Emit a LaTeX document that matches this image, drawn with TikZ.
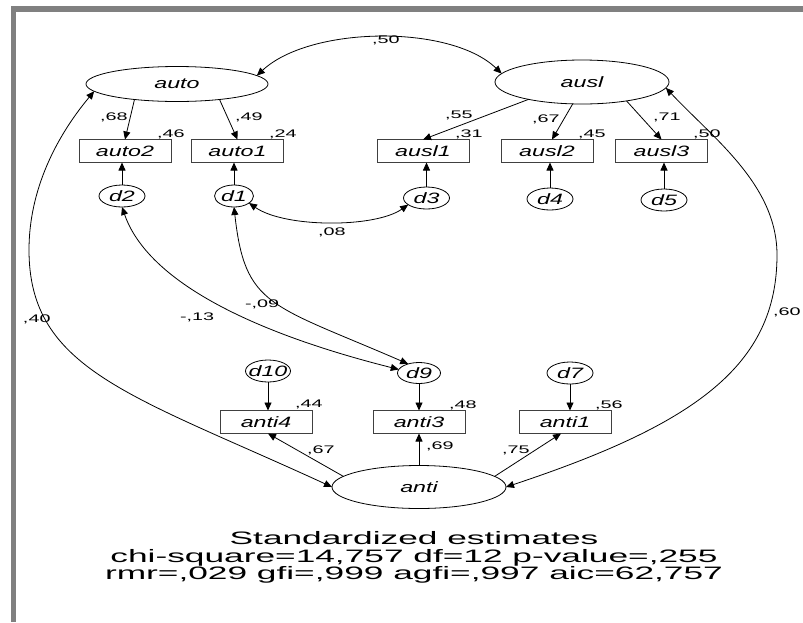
\documentclass[tikz,border=0pt]{standalone}
\usepackage{fontspec}
\setmainfont{Liberation Sans}
\usepackage{graphicx}
\usetikzlibrary{shapes.geometric,arrows.meta}
\newcommand\nm[1]{\makebox[0pt]{\scalebox{1.55}[1]{\fontsize{15}{18}\selectfont\itshape #1}}}
\newcommand\nv[1]{\scalebox{1.8}[1]{\fontsize{11}{13}\selectfont #1}}
\newcommand\bt[1]{\scalebox{1.96}[1]{\fontsize{18}{20}\selectfont #1}}
\begin{document}
\begin{tikzpicture}[x=1pt,y=-1pt,
  lat/.style={ellipse,draw=black,line width=0.8pt,inner sep=0pt,outer sep=0pt},
  obs/.style={rectangle,draw=black!75,line width=0.8pt,minimum width=92pt,minimum height=23pt,inner sep=0pt,outer sep=0pt},
  err/.style={ellipse,draw=black,line width=0.8pt,minimum width=46pt,minimum height=22pt,inner sep=0pt,outer sep=0pt},
  num/.style={anchor=base west,inner sep=0pt,outer sep=0pt},
  btxt/.style={anchor=base,inner sep=0pt,outer sep=0pt},
  arr/.style={line width=0.8pt,-{Triangle[length=8pt,width=7pt]}},
  cov/.style={line width=0.8pt,{Triangle[length=8pt,width=7pt]}-{Triangle[length=8pt,width=7pt]}}]
\useasboundingbox (0,0) rectangle (803,622);
\fill[white] (0,0) rectangle (803,622);
% frame
\fill[black!50] (11,6) rectangle (803,12);
\fill[black!50] (11,6) rectangle (16,622);

% latent variables
\node[lat,minimum width=182pt,minimum height=35pt] (auto) at (177,84) {\nm{auto}};
\node[lat,minimum width=174pt,minimum height=44pt] (ausl) at (582,82) {\nm{ausl}};
\node[lat,minimum width=174pt,minimum height=43pt] (anti) at (419,487) {\nm{anti}};

% observed
\node[obs] (auto2) at (125,151) {\nm{auto2}};
\node[obs] (auto1) at (237.5,151) {\nm{auto1}};
\node[obs] (ausl1) at (423,151) {\nm{ausl1}};
\node[obs] (ausl2) at (547,151) {\nm{ausl2}};
\node[obs] (ausl3) at (661.5,151) {\nm{ausl3}};
\node[obs] (anti4) at (266,422) {\nm{anti4}};
\node[obs] (anti3) at (419,422) {\nm{anti3}};
\node[obs] (anti1) at (565,422) {\nm{anti1}};

% errors
\node[err] (d2) at (122,196) {\nm{d2}};
\node[err,minimum width=39pt] (d1) at (234,196) {\nm{d1}};
\node[err] (d3) at (426.5,198) {\nm{d3}};
\node[err] (d4) at (550,199) {\nm{d4}};
\node[err] (d5) at (664,200) {\nm{d5}};
\node[err,minimum width=45pt] (d10) at (268,371) {\nm{d10}};
\node[err,minimum width=43pt,minimum height=21pt] (d9) at (419,373) {\nm{d9}};
\node[err] (d7) at (570,373) {\nm{d7}};

% loadings
\draw[arr] (auto.200) -- (auto2.north);
\draw[arr] (auto.340) -- (auto1.north);
\draw[arr] (ausl.198) -- (ausl1.north);
\draw[arr] (ausl.247) -- ([xshift=5pt]ausl2.north);
\draw[arr] (ausl.337) -- (ausl3.north);
\draw[arr] (anti.172) -- ([xshift=2pt]anti4.south);
\draw[arr] (anti.north) -- (anti3.south);
\draw[arr] (anti.8) -- ([xshift=-4pt]anti1.south);

% error arrows
\draw[arr] (d2) -- (d2 |- auto2.south);
\draw[arr] (d1) -- (d1 |- auto1.south);
\draw[arr] (d3) -- (d3 |- ausl1.south);
\draw[arr] (d4) -- (d4 |- ausl2.south);
\draw[arr] (d5) -- (d5 |- ausl3.south);
\draw[arr] (d10) -- (d10 |- anti4.north);
\draw[arr] (d9) -- (d9 |- anti3.north);
\draw[arr] (d7) -- (d7 |- anti1.north);

% covariances
\draw[cov] (auto.6) .. controls (310,26) and (450,24) .. (ausl.174);
\draw[cov] (auto.185) .. controls (56,137) and (29,190) .. (29,250) .. controls (29,370) and (132,395) .. (anti.west);
\draw[cov] (ausl.356) .. controls (714,139) and (777,185) .. (777,255) .. controls (777,365) and (696,424) .. (anti.east);
\draw[cov] (d1.335) .. controls (285,228) and (375,228) .. (d3.200);
\draw[cov] (d2.south) .. controls (148,282) and (254,333) .. (d9.170);
\draw[cov] (d1.south) .. controls (245,307) and (270,304) .. (d9.140);

% numbers
\node[num] (n50) at (372,43) {\nv{,50}};
\node[num] (n68) at (100,120) {\nv{,68}};
\node[num] (n46) at (157,137) {\nv{,46}};
\node[num] (n49) at (235,120) {\nv{,49}};
\node[num] (n24) at (269,137) {\nv{,24}};
\node[num] (n55) at (445,118) {\nv{,55}};
\node[num] (n31) at (455,137) {\nv{,31}};
\node[num] (n67a) at (532,122) {\nv{,67}};
\node[num] (n45) at (578,137) {\nv{,45}};
\node[num] (n71) at (653,120) {\nv{,71}};
\node[num] (n50b) at (693,137) {\nv{,50}};
\node[num] (n08) at (318,235) {\nv{,08}};
\node[num] (n40) at (23,322) {\nv{,40}};
\node[num] (n13) at (180,320) {\nv{-,13}};
\node[num] (n09) at (245,307) {\nv{-,09}};
\node[num] (n44) at (295,407) {\nv{,44}};
\node[num] (n60) at (773,315) {\nv{,60}};
\node[num] (n48) at (449,408) {\nv{,48}};
\node[num] (n56) at (595,408) {\nv{,56}};
\node[num] (n67b) at (307,453) {\nv{,67}};
\node[num] (n69) at (426,449) {\nv{,69}};
\node[num] (n75) at (502,453) {\nv{,75}};

% bottom text
\node[btxt] (t1) at (414,544) {\bt{Standardized estimates}};
\node[btxt] (t2) at (414,562) {\bt{chi-square=14,757 df=12 p-value=,255}};
\node[btxt] (t3) at (414,579) {\bt{rmr=,029 gfi=,999 agfi=,997 aic=62,757}};
\end{tikzpicture}
\end{document}
